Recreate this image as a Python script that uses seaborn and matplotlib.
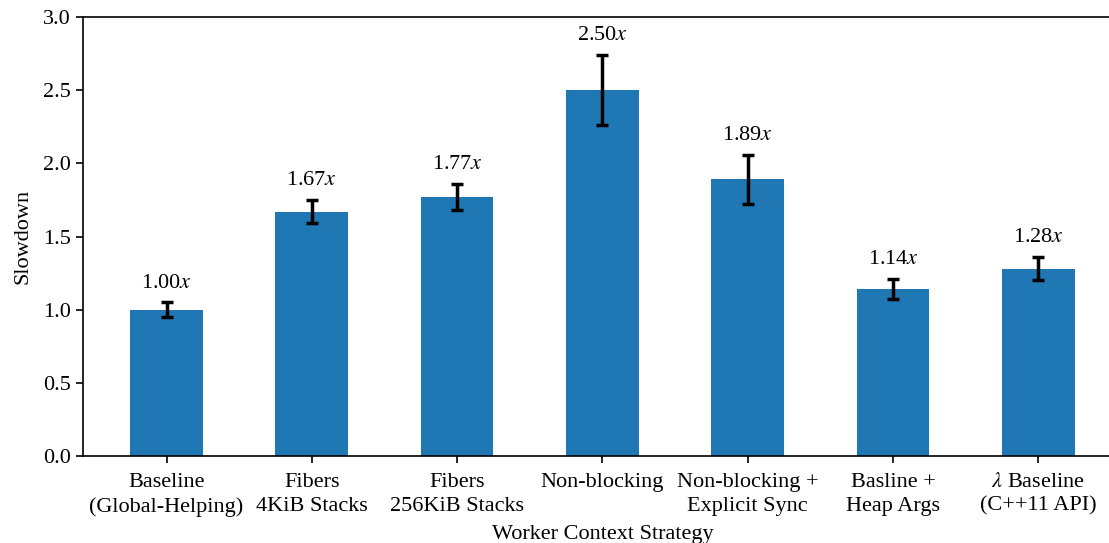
import matplotlib
matplotlib.use("Agg")
import matplotlib.pyplot as plt
import seaborn as sns
import pandas as pd

# slowdown per worker context strategy
strategies = [
    "Baseline\n(Global-Helping)",
    "Fibers\n4KiB Stacks",
    "Fibers\n256KiB Stacks",
    "Non-blocking",
    "Non-blocking +\nExplicit Sync",
    "Basline +\nHeap Args",
    "$\\lambda$ Baseline\n(C++11 API)",
]
slowdown = [1.00, 1.67, 1.77, 2.50, 1.89, 1.14, 1.28]
error = [0.05, 0.08, 0.09, 0.24, 0.17, 0.07, 0.08]

sns.set_style("ticks")
plt.rcParams["font.family"] = ["Liberation Serif", "DejaVu Serif"]
plt.rcParams["mathtext.fontset"] = "stix"
plt.rcParams["font.size"] = 16
plt.rcParams["text.color"] = "black"
plt.rcParams["axes.labelcolor"] = "black"

df = pd.DataFrame({"strategy": strategies, "slowdown": slowdown, "err": error})

fig = plt.figure(figsize=(11.09, 5.43), dpi=100)
ax = fig.add_axes([0.0748, 0.1602, 0.9369, 0.8085])

sns.barplot(data=df, x="strategy", y="slowdown", color="#1f77b4",
            saturation=1, width=0.5, errorbar=None, linewidth=0, ax=ax)
ax.errorbar(range(len(df)), df["slowdown"], yerr=df["err"], fmt="none",
            ecolor="black", elinewidth=2.5, capsize=4, capthick=2.5)

for i, (v, e) in enumerate(zip(slowdown, error)):
    ax.annotate(f"{v:.2f}$x$", (i, v + e), xytext=(0, 7),
                textcoords="offset points", ha="center", va="bottom",
                fontsize=16, color="black")

ax.set_xlim(-0.575, 6.575)
ax.set_ylim(0, 3.0)
ax.set_yticks([0.0, 0.5, 1.0, 1.5, 2.0, 2.5, 3.0])
ax.set_xlabel("Worker Context Strategy", fontsize=16, labelpad=6)
ax.set_ylabel("Slowdown", fontsize=16, labelpad=8)
for lbl in ax.get_xticklabels():
    lbl.set_linespacing(1.35)
for s in ax.spines.values():
    s.set_linewidth(1.2)
    s.set_color("black")
ax.tick_params(colors="black", labelsize=16, width=1.2, length=5)
ax.tick_params(axis="x", pad=7)

fig.savefig("out.png", dpi=100)
